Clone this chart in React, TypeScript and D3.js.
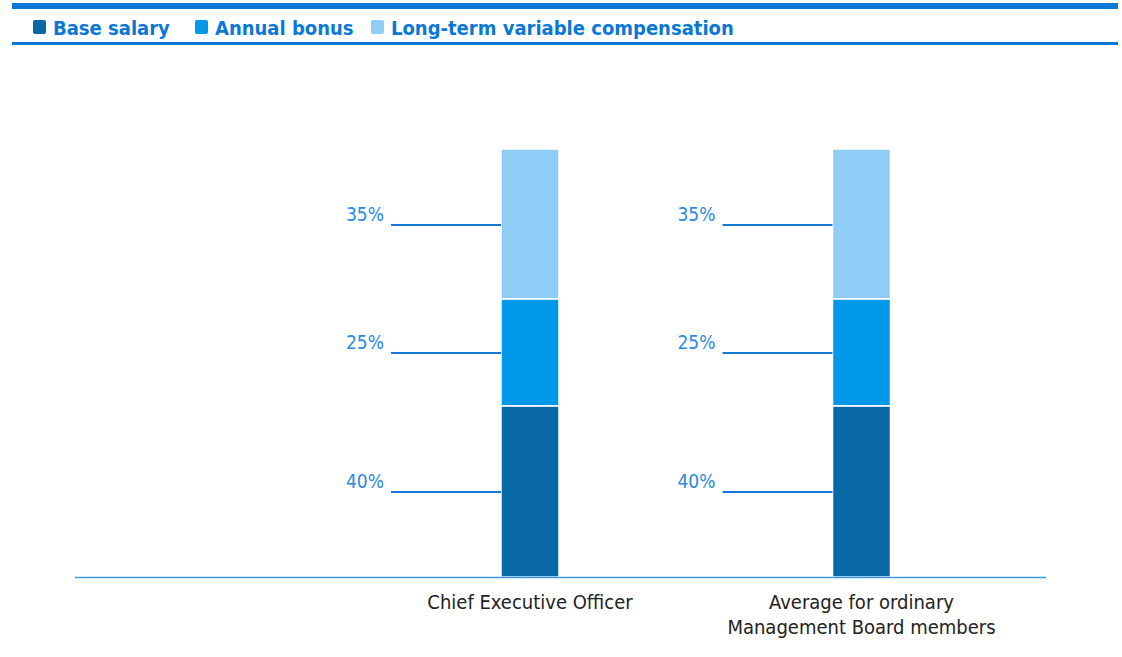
import React from 'react';
import * as d3 from 'd3';

// data
const categories = ['Chief Executive Officer', 'Average for ordinary\nManagement Board members'];
const seriesNames = ['Base salary', 'Annual bonus', 'Long-term variable compensation'];
const baseSalary = [40, 40];
const annualBonus = [25, 25];
const longTerm = [35, 35];
const seriesColors = ['#0869a6', '#0098e8', '#8fcdf6'];

const W = 1122;
const H = 657;
const axisY = 577;
const topY = 149;
const barW = 58;

const App: React.FC = () => {
  const values = [baseSalary, annualBonus, longTerm];
  const rows = categories.map((c, i) => {
    const r: Record<string, any> = { cat: c };
    seriesNames.forEach((s, k) => (r[s] = values[k][i]));
    return r;
  });
  const stacked = d3.stack<Record<string, any>>().keys(seriesNames)(rows);

  const x = d3.scalePoint<string>().domain(categories).range([530, 861.5]);
  const y = d3.scaleLinear().domain([0, 100]).range([axisY, topY]);

  const font = "'DejaVu Sans Condensed', 'DejaVu Sans', sans-serif";
  const lineColor = '#1478d6';

  const legendX = [33, 195, 371];

  return (
    <svg width={W} height={H} style={{ position: 'absolute', left: 0, top: 0, background: '#fff' }}>
      {/* legend frame */}
      <rect x={12} y={3} width={1106} height={6} fill="#0a78d7" />
      <rect x={12} y={42} width={1106} height={3} fill="#0a78d7" />
      {seriesNames.map((s, i) => (
        <g key={s} transform={`translate(${legendX[i]},0)`}>
          <rect x={0} y={20} width={13} height={14} rx={2} fill={seriesColors[i]} />
          <text x={20} y={35} fontFamily={font} fontWeight="bold" fontSize={20} fill="#0a78d7">
            {s}
          </text>
        </g>
      ))}

      {/* bars */}
      {stacked.map((layer, k) => (
        <g key={layer.key} fill={seriesColors[k]}>
          {layer.map((d, i) => (
            <rect
              key={i}
              x={x(categories[i])! - barW / 2}
              y={y(d[1])}
              width={barW}
              height={y(d[0]) - y(d[1])}
              stroke="#fff"
              strokeWidth={1.5}
            />
          ))}
        </g>
      ))}

      {/* leader lines + labels */}
      {stacked.map((layer, k) =>
        layer.map((d, i) => {
          const cx = x(categories[i])! - barW / 2;
          const ly = Math.round((y(d[0]) + y(d[1])) / 2) + 1;
          return (
            <g key={`${k}-${i}`}>
              <line x1={cx - 110} x2={cx} y1={ly} y2={ly} stroke={lineColor} strokeWidth={2} />
              <text
                x={cx - 117}
                y={ly - 4}
                textAnchor="end"
                fontFamily={font}
                fontSize={19}
                fontWeight={300}
                fill="#2a8ae0"
              >
                {`${values[k][i]}%`}
              </text>
            </g>
          );
        })
      )}

      {/* baseline */}
      <line x1={75} x2={1046} y1={axisY + 0.5} y2={axisY + 0.5} stroke="#3c96e0" strokeWidth={1.5} />

      {/* category labels */}
      {categories.map((c) => (
        <text
          key={c}
          x={x(c)}
          y={609}
          textAnchor="middle"
          fontFamily={font}
          fontSize={20}
          fill="#222"
        >
          {c.split('\n').map((t, j) => (
            <tspan key={j} x={x(c)} dy={j === 0 ? 0 : 25}>
              {t}
            </tspan>
          ))}
        </text>
      ))}
    </svg>
  );
};

export default App;
